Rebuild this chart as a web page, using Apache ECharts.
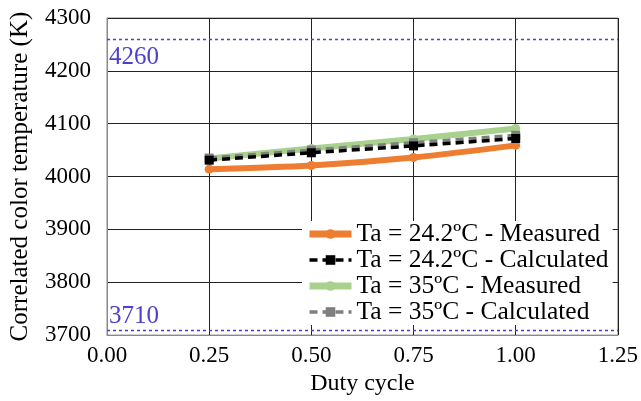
<!DOCTYPE html>
<html><head><meta charset="utf-8">
<script src="https://cdn.jsdelivr.net/npm/echarts@6/dist/echarts.min.js"></script>
<style>html,body{margin:0;padding:0;background:#fff}#c{width:641px;height:401px}</style>
</head><body><div id="c"></div>
<script>
const dutyCycle = [0.25, 0.50, 0.75, 1.00];
const measured24 = [4014, 4021, 4036, 4059];
const calculated24 = [4031, 4045, 4058, 4072];
const measured35 = [4034, 4053, 4071, 4091];
const calculated35 = [4035, 4050, 4064, 4078];
const seriesNames = ['Ta = 24.2ºC - Measured','Ta = 24.2ºC - Calculated','Ta = 35ºC - Measured','Ta = 35ºC - Calculated'];
const limitLines = [4260, 3710];

const F = 'Liberation Serif, Times New Roman, serif';
const pts = a => dutyCycle.map((x,i)=>[x,a[i]]);
const chart = echarts.init(document.getElementById('c'), null, {renderer:'canvas'});
chart.setOption({
  animation:false,
  backgroundColor:'#fff',
  grid:{left:103,right:23,top:18,bottom:63,show:true,borderColor:'#888',borderWidth:1},
  xAxis:{type:'value',min:0,max:1.25,interval:0.25,
    name:'Duty cycle',nameLocation:'middle',nameGap:33,
    nameTextStyle:{fontFamily:F,fontSize:24,color:'#000'},
    axisLine:{show:true,lineStyle:{color:'#888'}},axisTick:{show:false},
    axisLabel:{fontFamily:F,fontSize:23,color:'#000',margin:9,formatter:v=>v.toFixed(2)},
    splitLine:{show:true,lineStyle:{color:'#222',width:1}}},
  yAxis:{type:'value',min:3700,max:4300,interval:100,
    name:'Correlated color temperature (K)',nameLocation:'middle',nameGap:74,
    nameTextStyle:{fontFamily:F,fontSize:25,color:'#000'},
    axisLine:{show:true,lineStyle:{color:'#888'}},axisTick:{show:false},
    axisLabel:{fontFamily:F,fontSize:23,color:'#000',margin:16,formatter:v=>String(v)},
    splitLine:{show:true,lineStyle:{color:'#222',width:1}}},
  legend:{left:302,top:221,orient:'vertical',itemGap:0,itemWidth:42,itemHeight:12,itemTextGap:4,
    padding:[0,4,0,4],backgroundColor:'#fff',
    textStyle:{fontFamily:F,fontSize:25.5,color:'#000',lineHeight:26},
    data:[
      {name:seriesNames[0],lineStyle:{width:7,color:'#ED7D31'},itemStyle:{color:'#ED7D31'}},
      {name:seriesNames[1],lineStyle:{width:3.5,color:'#000',type:[8,5]},itemStyle:{color:'#000'}},
      {name:seriesNames[2],lineStyle:{width:7,color:'#A9D18E'},itemStyle:{color:'#A9D18E'}},
      {name:seriesNames[3],lineStyle:{width:3.5,color:'#7F7F7F',type:[8,5]},itemStyle:{color:'#7F7F7F'}}
    ]},
  series:[
    {name:seriesNames[0],type:'line',data:pts(measured24),smooth:0.3,
     lineStyle:{color:'#ED7D31',width:6},itemStyle:{color:'#ED7D31'},symbol:'circle',symbolSize:9,z:2,
     markLine:{silent:true,symbol:'none',
       lineStyle:{color:'#4B3FD0',type:[3,3],width:1.3},
       data:[
         {yAxis:limitLines[0],label:{show:true,position:'insideStartBottom',formatter:String(limitLines[0]),distance:[2,6],color:'#4B3FD0',fontFamily:F,fontSize:25}},
         {yAxis:limitLines[1],label:{show:true,position:'insideStartTop',formatter:String(limitLines[1]),distance:[2,1],color:'#4B3FD0',fontFamily:F,fontSize:25}}
       ]}},
    {name:seriesNames[1],type:'line',data:pts(calculated24),smooth:0.3,
     lineStyle:{color:'#000',width:3.5,type:[8,5]},itemStyle:{color:'#000'},symbol:'rect',symbolSize:9,z:4},
    {name:seriesNames[2],type:'line',data:pts(measured35),smooth:0.3,
     lineStyle:{color:'#A9D18E',width:6},itemStyle:{color:'#A9D18E'},symbol:'circle',symbolSize:9,z:2},
    {name:seriesNames[3],type:'line',data:pts(calculated35),smooth:0.3,
     lineStyle:{color:'#7F7F7F',width:3.5,type:[8,5]},itemStyle:{color:'#7F7F7F'},symbol:'rect',symbolSize:9,z:3}
  ]
});
</script></body></html>
